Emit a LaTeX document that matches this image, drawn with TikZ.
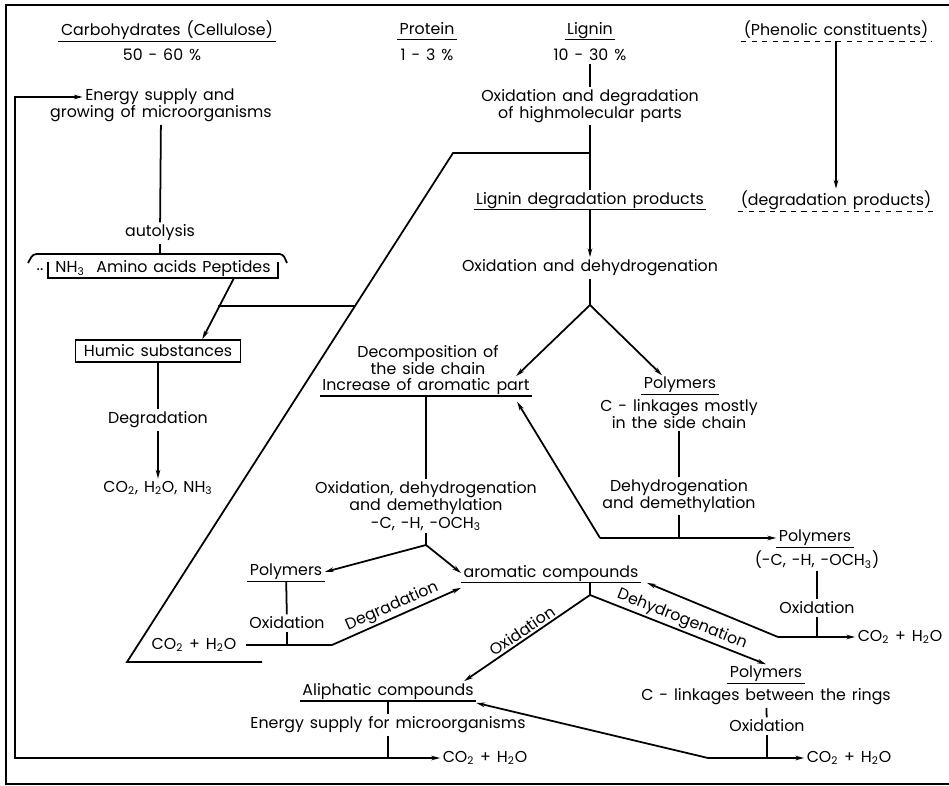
\documentclass[tikz,border=0pt]{standalone}
\usepackage{fontspec}
\setmainfont{Poppins}[WordSpace=1.4]
\usetikzlibrary{arrows.meta}

\begin{document}
\begin{tikzpicture}[x=0.02cm, y=-0.02cm, line width=1pt,
    every node/.style={font=\fontsize{9}{9.8}\selectfont, inner sep=1pt, align=center},
    >={Stealth[length=5pt, width=2.6pt]},
    ul/.style={text depth=2.2pt, inner ysep=0.6pt, append after command={(\tikzlastnode.south west) edge[line width=0.7pt] (\tikzlastnode.south east)}},
    dul/.style={text depth=2.2pt, inner ysep=0.6pt, append after command={(\tikzlastnode.south west) edge[line width=0.7pt, dashed] (\tikzlastnode.south east)}},
    box/.style={draw, minimum height=0.44cm, minimum width=3.3cm}]

      %frame
      \useasboundingbox (0,0) rectangle (949,786);
      \draw (949,5) -- (6,5) -- (6,784) -- (949,784);

      %headers
      \node[ul]  (carb)  at (167, 30) {Carbohydrates (Cellulose)};
      \node      (carbv) at (162, 55) {50 - 60 \%};
      \node[ul]  (prot)  at (427, 30) {Protein};
      \node      (protv) at (427, 55) {1 - 3 \%};
      \node[ul]  (lig)   at (590, 30) {Lignin};
      \node      (ligv)  at (590, 55) {10 - 30 \%};
      \node[dul] (phen)  at (836, 30) {(Phenolic constituents)};
      \node[dul] (phdeg) at (836,200) {(degradation products)};

      %carbohydrates and protein
      \node      (en1)   at (160, 97) {Energy supply and};
      \node      (en2)   at (161,114) {growing of microorganisms};
      \node      (autol) at (160,233) {autolysis};
      \node      (amino) at (163,269) {NH\textsubscript{3}\ \ Amino acids Peptides};
      \node      (dots)  at ( 40,270) {..};
      \node[box] (humic) at (158,351) {Humic substances};
      \node      (cdeg)  at (158,420) {Degradation};
      \node      (co2a)  at (158,488) {CO\textsubscript{2}, H\textsubscript{2}O, NH\textsubscript{3}};

      %lignin
      \node      (oxdeg)  at (590,106) {Oxidation and degradation\\of highmolecular parts};
      \node[ul]  (ldp)    at (590,200) {Lignin degradation products};
      \node      (oxdh)   at (590,268) {Oxidation and dehydrogenation};
      \node      (decomp) at (428,360) {Decomposition of\\the side chain};
      \node[ul]  (incr)   at (426,386) {Increase of aromatic part};
      \node[ul]  (poly1)  at (680,385) {Polymers};
      \node      (clink1) at (679,414) {C - linkages mostly\\in the side chain};
      \node      (dehyd)  at (679,496) {Dehydrogenation\\and demethylation};
      \node[ul]  (poly2)  at (815,538) {Polymers};
      \node      (poly2b) at (817,560) {(-C, -H, -OCH\textsubscript{3})};
      \node      (ox2)    at (817,608) {Oxidation};
      \node      (co2b)   at (900,637) {CO\textsubscript{2} + H\textsubscript{2}O};
      \node      (oxdd)   at (426,506) {Oxidation, dehydrogenation\\and demethylation\\-C, -H, -OCH\textsubscript{3}};
      \node[ul]  (poly3)  at (286,572) {Polymers};
      \node      (ox3)    at (287,623) {Oxidation};
      \node      (co2c)   at (194,645) {CO\textsubscript{2} + H\textsubscript{2}O};
      \node[ul]  (arom)   at (551,573) {aromatic compounds};
      \node[ul]  (aliph)  at (388,691) {Aliphatic compounds};
      \node      (ensup)  at (388,725) {Energy supply for microorganisms};
      \node      (co2d)   at (485,758) {CO\textsubscript{2} + H\textsubscript{2}O};
      \node[ul]  (poly4)  at (766,674) {Polymers};
      \node      (clink2) at (766,697) {C - linkages between the rings};
      \node      (ox4)    at (767,726) {Oxidation};
      \node      (co2e)   at (849,758) {CO\textsubscript{2} + H\textsubscript{2}O};

      %junctions
      \coordinate (brtop) at (160,254);
      \coordinate (brbot) at (234,278);
      \coordinate (j2)    at (218,306);
      \coordinate (j3)    at (355,306);
      \coordinate (jlig)  at (590,153);
      \coordinate (pa)    at (453,153);
      \coordinate (pb)    at (127,662);
      \coordinate (pc)    at (262,662);
      \coordinate (jox)   at (590,305);
      \coordinate (jdeh)  at (679,538);
      \coordinate (pdl)   at (600,538);
      \coordinate (jox2)  at (817,637);
      \coordinate (pox2)  at (778,637);
      \coordinate (jox3)  at (426,545);
      \coordinate (jox4)  at (287,645);
      \coordinate (pdg)   at (332,645);
      \coordinate (jar)   at (590,595);
      \coordinate (jox5)  at (767,758);
      \coordinate (pox5)  at (708,758);
      \coordinate (jen)   at (388,758);
      \coordinate (fbbot) at ( 15,758);
      \coordinate (fbtop) at ( 15, 97);

      %bracket round the nitrogen compounds
      \draw[rounded corners=2pt] (28,263) -- (33,254) -- (283,254) -- (287,263);
      \draw (48,262) -- (48,278) -- (278,278) -- (278,262);

      %left column
      \draw (en2) -- (autol);
      \draw (autol) -- (brtop);
      \draw[->] (brbot) -- (humic.15);
      \draw (j2) -- (j3);
      \draw (humic) -- (cdeg);
      \draw[->] (cdeg) -- (co2a);

      %lignin path
      \draw (ligv) -- (oxdeg);
      \draw (oxdeg) -- (ldp);
      \draw (jlig) -- (pa) -- (pb) -- (pc);
      \draw[->] (phen) -- (phdeg);
      \draw[->] (ldp) -- (oxdh);
      \draw (oxdh) -- (jox);
      \draw[->] (jox) -- ([xshift=-0.32cm]incr.north east);
      \draw[->] (jox) -- ([xshift=-0.36cm]poly1.north);
      \draw (incr) -- (oxdd);
      \draw (clink1) -- (dehyd);
      \draw (dehyd) -- (jdeh);
      \draw[->] (pdl) -- (poly2.west);
      \draw[->] (pdl) -- ([xshift=-0.3cm, yshift=-0.12cm]incr.south east);
      \draw (poly2b) -- (ox2);
      \draw (ox2) -- (jox2);
      \draw[->] (pox2) -- (co2b.west);
      \draw[->] (pox2) -- ([xshift=0.12cm]arom.south east);
      \draw (oxdd) -- (jox3);
      \draw[->] (jox3) -- (poly3.east);
      \draw[->] (jox3) -- (arom.west);
      \draw (poly3) -- (ox3);
      \draw (ox3) -- (jox4);
      \draw[shorten <=4pt] (co2c.east) -- (pdg);
      \draw[->] (pdg) -- node[above, sloped] {Degradation} ([yshift=-0.1cm]arom.south west);
      \draw (jar) -- (jar |- arom.south);
      \draw[->] (jar) -- node[above, sloped] {Oxidation} ([xshift=-0.24cm]aliph.north east);
      \draw[->] (jar) -- node[above, sloped] {Dehydrogenation} (poly4.north);
      \draw (clink2) -- (ox4);
      \draw (ox4) -- (jox5);
      \draw[->] (pox5) -- (co2e.west);
      \draw[->] (pox5) -- ([yshift=-0.04cm]aliph.south east);
      \draw (aliph) -- (ensup);
      \draw (ensup) -- (jen);
      \draw[->] (jen) -- (co2d.west);
      \draw[->] (jen) -- (fbbot) -- (fbtop) -- (en1.west);
\end{tikzpicture}
\end{document}
